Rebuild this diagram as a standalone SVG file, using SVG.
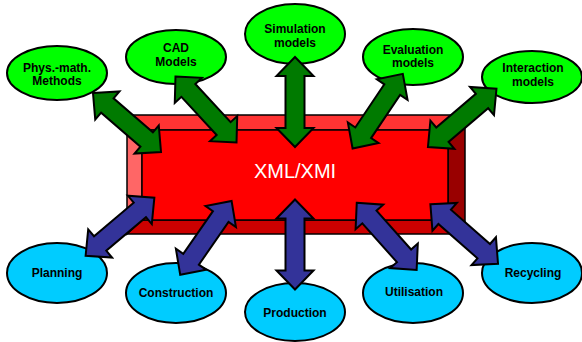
<svg xmlns="http://www.w3.org/2000/svg" width="582" height="342" viewBox="0 0 582 342">
  <style>
    .green { fill: #00FF00; stroke: #000; stroke-width: 2; }
    .cyan { fill: #00CCFF; stroke: #000; stroke-width: 2; }
    .lbl { font-family: "Liberation Sans", Arial, sans-serif; font-size: 12px; font-weight: bold; fill: #000; text-anchor: middle; }
    .bevel { stroke: #000; stroke-width: 1.5; stroke-linejoin: miter; }
    .up { fill: #007A00; stroke: #000; stroke-width: 2; stroke-linejoin: miter; }
    .down { fill: #333399; stroke: #000; stroke-width: 2; stroke-linejoin: miter; }
  </style>
  <defs>
    <!-- double-headed block arrow, 90 long, centred on the origin along x -->
    <path id="dbl" d="M-45,0 L-26,-18.5 L-26,-9.5 L26,-9.5 L26,-18.5 L45,0 L26,18.5 L26,9.5 L-26,9.5 L-26,18.5 Z"/>
  </defs>

  <rect width="582" height="342" fill="#fff"/>

  <!-- central bevelled block -->
  <g id="xmlxmi">
    <polygon class="bevel" fill="#FF3333" points="127,115 465,115 448,130 142,130"/>
    <polygon class="bevel" fill="#FF6666" points="127,115 142,130 142,220 127,234"/>
    <polygon class="bevel" fill="#990000" points="465,115 465,234 448,220 448,130"/>
    <polygon class="bevel" fill="#CC0000" points="127,234 142,220 448,220 465,234"/>
    <rect class="bevel" fill="#FF0000" x="142" y="130" width="306" height="90"/>
    <text x="295" y="178" font-family="'Liberation Sans', Arial, sans-serif" font-size="20" fill="#fff" text-anchor="middle">XML/XMI</text>
  </g>

  <!-- upper models -->
  <g id="phys-math">
    <ellipse class="green" cx="57" cy="73" rx="50" ry="27"/>
    <text class="lbl" x="57" y="72">Phys.-math.</text>
    <text class="lbl" x="57" y="85">Methods</text>
  </g>
  <g id="cad">
    <ellipse class="green" cx="176" cy="57" rx="50" ry="27"/>
    <text class="lbl" x="176" y="52">CAD</text>
    <text class="lbl" x="176" y="66">Models</text>
  </g>
  <g id="simulation">
    <ellipse class="green" cx="295" cy="34" rx="50" ry="30"/>
    <text class="lbl" x="295" y="33">Simulation</text>
    <text class="lbl" x="295" y="47">models</text>
  </g>
  <g id="evaluation">
    <ellipse class="green" cx="413" cy="57" rx="50" ry="28"/>
    <text class="lbl" x="413" y="54">Evaluation</text>
    <text class="lbl" x="413" y="67">models</text>
  </g>
  <g id="interaction">
    <ellipse class="green" cx="532" cy="77" rx="50" ry="26"/>
    <text class="lbl" x="533" y="72">Interaction</text>
    <text class="lbl" x="533" y="86">models</text>
  </g>

  <!-- lifecycle phases -->
  <g id="planning">
    <ellipse class="cyan" cx="57" cy="273" rx="50" ry="30"/>
    <text class="lbl" x="57" y="277">Planning</text>
  </g>
  <g id="construction">
    <ellipse class="cyan" cx="176" cy="293" rx="50" ry="30"/>
    <text class="lbl" x="176" y="297">Construction</text>
  </g>
  <g id="production">
    <ellipse class="cyan" cx="295" cy="312" rx="50" ry="29"/>
    <text class="lbl" x="295" y="317">Production</text>
  </g>
  <g id="utilisation">
    <ellipse class="cyan" cx="413" cy="293" rx="50" ry="30"/>
    <text class="lbl" x="414" y="296">Utilisation</text>
  </g>
  <g id="recycling">
    <ellipse class="cyan" cx="532" cy="273" rx="50" ry="30"/>
    <text class="lbl" x="533" y="277">Recycling</text>
  </g>

  <!-- connectors -->
  <g id="connectors">
    <use href="#dbl" class="up" transform="translate(127,122.5) rotate(40.9)"/>
    <use href="#dbl" class="up" transform="translate(206,109.5) rotate(47.3)"/>
    <use href="#dbl" class="up" transform="translate(295,102) rotate(90)"/>
    <use href="#dbl" class="up" transform="translate(377.7,111.2) rotate(123.9)"/>
    <use href="#dbl" class="up" transform="translate(462.2,117.9) rotate(139.6)"/>
    <use href="#dbl" class="down" transform="translate(120,226.7) rotate(139.8)"/>
    <use href="#dbl" class="down" transform="translate(205.9,237.9) rotate(124.8)"/>
    <use href="#dbl" class="down" transform="translate(295,244.5) rotate(90)"/>
    <use href="#dbl" class="down" transform="translate(386.7,236.4) rotate(48.3)"/>
    <use href="#dbl" class="down" transform="translate(464.2,234) rotate(41.3)"/>
  </g>
</svg>
